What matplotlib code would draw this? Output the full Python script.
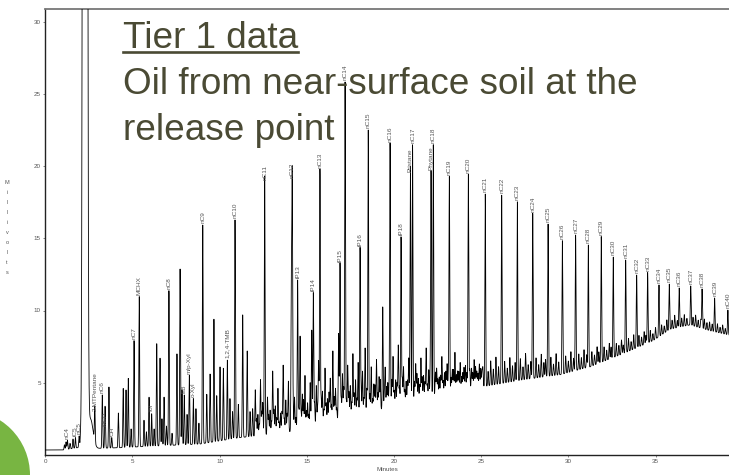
import numpy as np
import matplotlib
matplotlib.use("Agg")
import matplotlib.pyplot as plt
from matplotlib.patches import Circle
from matplotlib.lines import Line2D

# ---------------- data ----------------
# labelled peaks: retention time (min), apex (mV)
peak_labels = ["nC4", "iC5", "nC5", "2-MTPentane", "nC6", "MCP", "CH",
               "nC7", "MCHX", "Tol", "nC8", "EB", "m/p-Xyl", "o-Xyl",
               "nC9", "1,2,4-TMB", "nC10", "nC11", "nC12", "iP13", "iP14",
               "nC13", "iP15", "nC14", "iP16", "nC15", "nC16", "iP18",
               "Pristane", "nC17", "Phytane", "nC18", "nC19", "nC20",
               "nC21", "nC22", "nC23", "nC24", "nC25", "nC26", "nC27",
               "nC28", "nC29", "nC30", "nC31", "nC32", "nC33", "nC34",
               "nC35", "nC36", "nC37", "nC38", "nC39", "nC40"]
peak_times = [1.28, 1.74, 1.95, 2.85, 3.28, 3.45, 3.82,
              5.10, 5.40, 6.11, 7.10, 7.98, 8.27, 8.50,
              9.04, 10.45, 10.89, 12.59, 14.17, 14.48, 15.38,
              15.76, 16.91, 17.20, 18.06, 18.53, 19.78, 20.41,
              20.95, 21.07, 22.13, 22.26, 23.18, 24.27,
              25.24, 26.18, 27.08, 27.96, 28.84, 29.66, 30.42,
              31.15, 31.89, 32.58, 33.29, 33.92, 34.55, 35.20,
              35.79, 36.36, 37.02, 37.67, 38.39, 39.15]
peak_tops = [1.0, 1.2, 1.3, 2.9, 4.15, 1.85, 1.2,
             7.91, 10.96, 2.85, 11.37, 4.15, 5.5, 3.9,
             15.92, 6.57, 16.27, 18.92, 19.09, 12.11, 11.23,
             19.78, 13.27, 25.82, 14.33, 22.50, 21.58, 15.11,
             19.5, 21.5, 19.6, 21.5, 19.27, 19.43,
             18.07, 18.00, 17.53, 16.73, 15.99, 14.83, 15.23,
             14.54, 15.12, 13.70, 13.50, 12.46, 12.63, 11.77,
             11.83, 11.56, 11.70, 11.49, 10.87, 10.03]

# unlabelled peaks, apex value (mV)
minor_times = [1.11, 1.20, 1.43, 1.60, 2.03, 3.43, 3.66, 4.20, 4.48, 4.64,
               4.77, 4.93, 5.67, 5.81, 5.96, 6.25, 6.40, 6.59, 6.70, 6.82,
               6.96, 7.28, 7.56, 7.74, 7.85, 8.14, 8.65, 8.82, 9.27, 9.46,
               9.68, 9.84, 10.03, 10.22, 10.60, 10.75, 11.08, 11.33, 11.59, 11.75,
               11.90, 12.05, 12.20, 12.35, 12.48, 12.75, 12.90, 13.05, 13.20, 13.35,
               13.50, 13.65, 13.80, 13.95, 14.12, 14.30, 14.62, 14.75, 14.90, 15.05,
               15.20, 15.29, 15.55, 15.68, 15.90, 16.05, 16.20, 16.35, 16.50, 16.65,
               16.83, 17.05, 17.35, 17.50, 17.65, 17.80, 17.95, 18.20, 18.35, 18.70,
               18.85, 19.00, 19.15, 19.36, 19.50, 19.65, 19.95, 20.10, 20.25, 20.55,
               20.70, 20.85, 21.25, 21.40, 21.55, 21.70, 21.85, 22.00, 22.45, 22.60,
               22.75, 22.90, 23.05, 23.35, 23.50, 23.65, 23.80, 23.95, 24.10, 24.45,
               24.60, 24.75, 24.90, 25.05]
minor_tops = [0.7, 0.9, 0.8, 1.1, 1.0, 2.3, 4.7, 2.9, 4.6, 4.5,
              5.3, 1.8, 2.4, 1.6, 4.0, 1.8, 7.7, 6.7, 2.5, 4.0,
              2.0, 1.5, 7.0, 12.87, 4.5, 2.8, 3.2, 2.2, 4.2, 5.6,
              9.4, 4.1, 6.1, 6.0, 3.9, 3.0, 3.5, 9.7, 7.2, 3.0,
              3.2, 4.5, 2.8, 5.2, 3.6, 4.0, 3.1, 5.8, 3.4, 4.6,
              2.9, 6.2, 3.8, 5.1, 11.4, 4.0, 8.2, 4.2, 5.5, 3.6,
              5.0, 8.65, 4.8, 6.5, 4.4, 6.0, 3.9, 5.3, 7.2, 4.6,
              8.4, 5.6, 6.2, 4.8, 7.0, 5.2, 6.4, 5.8, 7.4, 6.1,
              4.9, 6.6, 5.4, 10.26, 6.0, 5.0, 6.8, 5.2, 7.6, 6.1,
              5.1, 6.7, 6.3, 5.3, 6.7, 5.5, 7.4, 5.9, 6.0, 5.4,
              6.8, 5.7, 6.3, 5.9, 7.1, 5.8, 6.4, 5.7, 6.2, 6.0,
              6.6, 5.8, 6.3, 5.8]

# small unresolved spikes: time (min), height above the envelope (mV)
spike_times = [12.12, 12.28, 12.42, 12.62, 12.82, 12.98, 13.12, 13.28, 13.42, 13.58,
               13.72, 13.88, 14.22, 14.38, 14.55, 14.68, 14.82, 14.98, 15.12, 15.45,
               15.62, 15.83, 15.98, 16.12, 16.28, 16.42, 16.58, 16.72, 16.98, 17.12,
               17.28, 17.42, 17.58, 17.72, 17.88, 18.12, 18.28, 18.45, 18.62, 18.78,
               18.92, 19.08, 19.22, 19.45, 19.58, 19.72, 19.88, 20.02, 20.18, 20.32,
               20.48, 20.62, 20.78, 20.92, 21.18, 21.32, 21.48, 21.62, 21.78, 21.92,
               22.08, 22.38, 22.52, 22.68, 22.82, 22.98, 23.12, 23.28, 23.42, 23.58,
               23.72, 23.88, 24.02, 24.18, 24.35, 24.52, 24.68, 24.82, 24.98,
               25.10, 25.40, 25.55, 25.70, 25.85, 26.00, 26.35, 26.50, 26.65, 26.80,
               26.95, 27.25, 27.40, 27.55, 27.70, 27.85, 28.15, 28.30, 28.45, 28.60,
               28.70, 29.00, 29.15, 29.30, 29.45, 29.85, 30.00, 30.15, 30.30, 30.60,
               30.75, 30.90, 31.05, 31.35, 31.50, 31.65, 31.75, 32.05, 32.20, 32.35,
               32.45, 32.75, 32.90, 33.05, 33.15, 33.45, 33.60, 33.75, 34.05, 34.20,
               34.35, 34.45, 34.70, 34.85, 35.00, 35.35, 35.50, 35.65, 35.95, 36.10,
               36.25, 36.50, 36.65, 36.80, 37.15, 37.30, 37.45, 37.60, 37.80, 37.95,
               38.10, 38.25, 38.55, 38.70, 38.85, 39.00]
spike_heights = [1.2, 0.8, 1.6, 1.0, 1.4, 0.9, 1.7, 1.1, 0.8, 1.5,
                 1.0, 1.3, 1.8, 0.9, 1.4, 1.1, 2.0, 1.2, 0.9, 1.6,
                 1.1, 1.9, 1.0, 1.4, 2.1, 1.2, 1.7, 0.9, 1.5, 2.2,
                 1.3, 1.8, 1.0, 1.6, 1.2, 2.0, 1.1, 1.7, 1.3, 0.9,
                 1.8, 1.2, 2.1, 1.0, 1.5, 1.2, 1.9, 1.1, 1.6, 1.3,
                 1.8, 1.0, 1.6, 1.2, 1.4, 1.9, 1.1, 1.6, 1.2, 1.0,
                 1.5, 1.7, 1.2, 1.4, 1.0, 1.6, 1.3, 1.1, 1.6, 1.2,
                 1.4, 1.0, 1.6, 1.2, 1.4, 1.1, 1.5, 1.0, 1.3,
                 1.3, 1.0, 1.7, 1.1, 1.9, 1.2, 1.5, 1.0, 1.7, 1.1,
                 1.3, 1.5, 0.9, 1.8, 1.0, 1.2, 1.4, 0.9, 1.6, 1.0,
                 1.2, 1.3, 0.8, 1.5, 0.9, 1.2, 0.8, 1.4, 0.9, 1.1,
                 0.8, 1.3, 0.9, 1.0, 0.7, 1.2, 0.8, 1.0, 0.7, 1.1,
                 0.8, 0.9, 0.7, 1.0, 0.6, 0.9, 0.6, 1.0, 0.8, 0.6,
                 0.9, 0.6, 0.8, 0.5, 0.8, 0.7, 0.5, 0.8, 0.6, 0.9,
                 0.5, 0.6, 0.8, 0.5, 0.6, 0.8, 0.5, 0.6, 0.7, 0.5,
                 0.6, 0.5, 0.6, 0.4, 0.6, 0.4]

# baseline / unresolved complex mixture envelope
baseline_times = [0.0, 1.03, 2.12, 2.98, 4.29, 6.0, 8.87, 11.18, 13.65, 16.16,
                  18.8, 20.16, 22.64, 24.54, 27.4, 29.52, 31.25, 33.13, 34.85,
                  35.83, 36.97, 38.12, 39.21]
baseline_values = [0.34, 0.34, 0.55, 0.45, 0.5, 0.6, 0.75, 1.2, 1.5, 2.2,
                   3.0, 3.4, 4.1, 4.6, 5.2, 5.55, 6.1, 7.0, 7.9,
                   8.7, 9.0, 8.6, 8.3]

solvent_time = 2.29
solvent_height = 500.0
solvent_tail_time = 2.60
solvent_tail_height = 2.0

x_ticks = [0, 5, 10, 15, 20, 25, 30, 35]
y_ticks = [5, 10, 15, 20, 25, 30]

title_lines = ["Tier 1 data", "Oil from near-surface soil at the", "release point"]

# ---------------- figure ----------------
W, H = 729, 475
fig = plt.figure(figsize=(W / 100, H / 100), dpi=100)
fig.patch.set_facecolor("white")

ax_left, ax_right, ax_top, ax_bot = 45.1, 729.0, 9.0, 454.9
ax = fig.add_axes([ax_left / W, 1 - ax_bot / H, (ax_right - ax_left) / W, (ax_bot - ax_top) / H])

t = np.linspace(0, 39.25, 16000)
base = np.interp(t, baseline_times, baseline_values)
signal = base.copy()


def add_peak(tc, height, sigma):
    global signal
    signal = signal + height * np.exp(-0.5 * ((t - tc) / sigma) ** 2)


add_peak(solvent_time, solvent_height, 0.072)
add_peak(solvent_tail_time, solvent_tail_height, 0.15)
for tc, top in zip(peak_times, peak_tops):
    add_peak(tc, top - np.interp(tc, baseline_times, baseline_values), 0.022)
for tc, top in zip(minor_times, minor_tops):
    add_peak(tc, top - np.interp(tc, baseline_times, baseline_values), 0.022)
for tc, h in zip(spike_times, spike_heights):
    add_peak(tc, h, 0.022)

ax.plot(t, signal, color="black", lw=0.6, zorder=3)

for lab, tc, top in zip(peak_labels, peak_times, peak_tops):
    ax.text(tc, top + 0.12, lab, rotation=90, ha="center", va="bottom",
            fontsize=4.6, color="#555555", family="Liberation Sans", zorder=4)

ax.set_xlim(0, (ax_right - ax_left) / 17.44)
ax.set_ylim(0, (ax_bot - ax_top) / 14.44)
ax.set_xticks(x_ticks)
ax.set_yticks(y_ticks)
ax.tick_params(axis="both", length=1.5, width=0.5, pad=1.5, labelsize=4.5,
               labelcolor="#555555", color="#555555")
for lab in ax.get_xticklabels() + ax.get_yticklabels():
    lab.set_family("Liberation Sans")
ax.spines["right"].set_visible(False)
ax.spines["left"].set_color("#222222")
ax.spines["left"].set_linewidth(1.0)
ax.spines["bottom"].set_color("#222222")
ax.spines["bottom"].set_linewidth(1.0)
ax.spines["top"].set_color("#777777")
ax.spines["top"].set_linewidth(1.3)
ax.set_xlabel("Minutes", fontsize=4.5, color="#555555", labelpad=2,
              family="Liberation Sans")

# stacked y label
fig.text(7 / W, 1 - 180 / H, "\n".join("Millivolts"), ha="center", va="top",
         fontsize=4.0, color="#555555", linespacing=2.25, family="Liberation Sans")

# title block
title_color = "#4a4a34"
baselines = [48.3, 94.3, 140.3]
for line, yb in zip(title_lines, baselines):
    fig.text(123 / W, 1 - yb / H, line, ha="left", va="baseline",
             fontsize=26.6, color=title_color, family="Liberation Sans", zorder=5)
fig.add_artist(Line2D([123 / W, 298 / W], [1 - 52 / H, 1 - 52 / H],
                      color=title_color, lw=1.9, zorder=5))

# green decorative circle, bottom left
fig.add_artist(Circle((-35, 0), 65, transform=None, facecolor="#78b542",
                      edgecolor="none", zorder=6))

fig.savefig("out.png", dpi=100, facecolor="white")
